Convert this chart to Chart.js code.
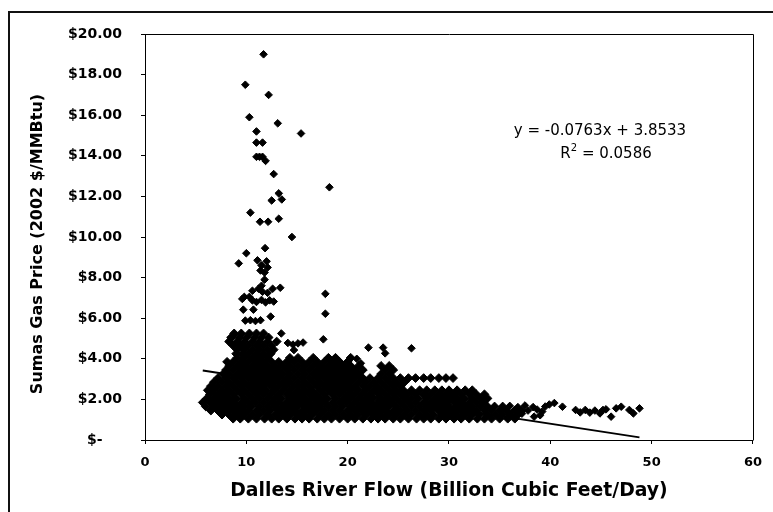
<!DOCTYPE html>
<html>
<head>
<meta charset="utf-8">
<title>Sumas Gas Price vs Dalles River Flow</title>
<script src="https://cdn.jsdelivr.net/npm/chart.js@4.4.1/dist/chart.umd.min.js"></script>
<style>
  html, body { margin: 0; padding: 0; background: #fff; }
  #wrap { position: relative; width: 773px; height: 512px; overflow: hidden; }
  #frame { position: absolute; left: 8px; top: 11px; width: 800px; height: 540px;
           border-left: 2px solid #111; border-top: 2px solid #111; }
  #chart { position: absolute; left: 0; top: 0; }
</style>
</head>
<body>
<div id="wrap">
  <div id="frame"></div>
  <canvas id="chart" width="773" height="512"></canvas>
</div>
<script>
// axis ticks
const flowTicks = [0, 10, 20, 30, 40, 50, 60];
const priceTicks = [0, 2, 4, 6, 8, 10, 12, 14, 16, 18, 20];

// dense lower band: one row per price level ($/MMBtu), with the flows seen there
const bandPrice = [1.05, 1.25, 1.45, 1.65, 1.85, 2.05, 2.25, 2.45, 2.65, 2.85, 3.05,
                   3.25, 3.45, 3.65, 3.85, 4.05, 4.25, 4.45, 4.65, 4.85, 5.05, 5.25];
const bandFlow = [
  [8.7, 9.4, 10.2, 11.0, 11.8, 12.5, 13.2, 14.0, 14.8, 15.5, 16.2, 17.0, 17.7, 18.4, 19.2, 20.0, 20.7, 21.5, 22.3, 23.0, 23.7, 24.5, 25.2, 26.0, 26.8, 27.5, 28.2, 29.0, 29.7, 30.5, 31.2, 32.0, 32.8, 33.5, 34.2, 35.0, 35.8, 36.5],
  [7.6, 8.3, 9.1, 9.8, 10.6, 11.3, 12.1, 12.9, 13.6, 14.3, 15.1, 15.8, 16.5, 17.3, 18.1, 18.8, 19.6, 20.3, 21.0, 21.8, 22.6, 23.3, 24.1, 24.8, 25.6, 26.3, 27.1, 27.8, 28.5, 29.3, 30.1, 30.8, 31.6, 32.3, 33.0, 33.8, 34.6, 35.3, 36.1, 36.8],
  [6.5, 7.2, 8.0, 8.7, 9.5, 10.2, 11.0, 11.7, 12.4, 13.2, 14.0, 14.7, 15.5, 16.2, 16.9, 17.7, 18.5, 19.2, 20.0, 20.7, 21.4, 22.2, 23.0, 23.7, 24.5, 25.2, 25.9, 26.7, 27.5, 28.2, 29.0, 29.7, 30.4, 31.2, 32.0, 32.7, 33.5, 34.2, 35.0, 35.7, 36.5, 37.2],
  [6.0, 6.8, 7.6, 8.3, 9.1, 9.8, 10.5, 11.3, 12.1, 12.8, 13.6, 14.3, 15.0, 15.8, 16.6, 17.3, 18.1, 18.8, 19.5, 20.3, 21.1, 21.8, 22.6, 23.3, 24.0, 24.8, 25.6, 26.3, 27.1, 27.8, 28.6, 29.3, 30.0, 30.8, 31.6, 32.3, 33.1, 33.8, 34.5, 35.3],
  [5.7, 6.5, 7.2, 8.0, 8.7, 9.5, 10.2, 10.9, 11.7, 12.5, 13.2, 14.0, 14.7, 15.4, 16.2, 17.0, 17.7, 18.5, 19.2, 19.9, 20.7, 21.5, 22.2, 23.0, 23.7, 24.4, 25.2, 26.0, 26.7, 27.5, 28.2, 28.9, 29.7, 30.5, 31.2, 32.0, 32.7, 33.4],
  [6.1, 6.8, 7.6, 8.3, 9.0, 9.8, 10.6, 11.3, 12.1, 12.8, 13.5, 14.3, 15.1, 15.8, 16.6, 17.3, 18.0, 18.8, 19.6, 20.3, 21.1, 21.8, 22.5, 23.3, 24.1, 24.8, 25.6, 26.3, 27.0, 27.8, 28.6, 29.3, 30.1, 30.8, 31.5, 32.3, 33.1, 33.8],
  [6.4, 7.2, 8.0, 8.7, 9.5, 10.2, 11.0, 11.7, 12.4, 13.2, 14.0, 14.7, 15.5, 16.2, 16.9, 17.7, 18.5, 19.2, 20.0, 20.7, 21.4, 22.2, 23.0, 23.7, 24.5, 25.2, 25.9, 26.7, 27.5, 28.2, 29.0, 29.7, 30.4, 31.2, 32.0, 32.7, 33.5],
  [6.2, 6.8, 7.6, 8.3, 9.1, 9.8, 10.6, 11.3, 12.0, 12.8, 13.6, 14.3, 15.1, 15.8, 16.5, 17.3, 18.1, 18.8, 19.6, 20.3, 21.0, 21.8, 22.6, 23.3, 24.1, 24.8, 25.5, 26.3, 27.1, 27.8, 28.6, 29.3, 30.0, 30.8, 31.6, 32.3],
  [6.5, 7.2, 8.0, 8.7, 9.5, 10.2, 11.0, 11.7, 12.5, 13.2, 13.9, 14.7, 15.5, 16.2, 17.0, 17.7, 18.4, 19.2, 20.0, 20.7, 21.5, 22.2, 22.9, 23.7, 24.5, 25.2],
  [6.8, 7.6, 8.3, 9.1, 9.8, 10.6, 11.3, 12.1, 12.8, 13.6, 14.3, 15.1, 15.8, 16.6, 17.3, 18.1, 18.8, 19.6, 20.3, 21.1, 21.8, 22.6, 23.3, 24.1, 24.8, 25.6],
  [7.2, 8.0, 8.7, 9.5, 10.2, 11.0, 11.7, 12.5, 13.2, 14.0, 14.7, 15.5, 16.2, 17.0, 17.7, 18.5, 19.2, 20.0, 20.7, 21.5, 22.2, 23.0, 23.7, 24.5, 25.2, 26.0, 26.7, 27.5, 28.2, 29.0, 29.7, 30.4],
  [7.7, 8.3, 9.1, 9.8, 10.6, 11.3, 12.1, 12.8, 13.6, 14.3, 15.1, 15.8, 16.6, 17.3, 18.1, 18.8, 19.6, 20.3, 21.1, 23.3, 24.1],
  [8.0, 8.7, 9.5, 10.2, 11.0, 11.7, 12.5, 13.2, 14.0, 14.7, 15.5, 16.2, 17.0, 17.7, 18.5, 19.2, 20.0, 20.7, 21.5, 23.7, 24.5],
  [8.3, 9.1, 9.8, 10.6, 11.3, 12.1, 12.8, 13.6, 14.3, 15.1, 15.8, 16.6, 17.3, 18.1, 18.8, 19.6, 20.3, 21.1, 23.3, 24.1],
  [8.1, 8.7, 9.5, 10.2, 11.0, 11.7, 12.5, 13.2, 14.0, 14.7, 15.5, 16.2, 17.0, 17.7, 18.5, 19.2, 20.0],
  [9.1, 9.8, 10.6, 11.3, 12.1, 14.3, 15.1, 16.6, 18.1, 18.8, 20.3],
  [9.0, 9.6, 10.2, 11.0, 11.7, 12.4],
  [9.1, 9.8, 10.6, 11.3, 12.1, 12.7],
  [8.7, 9.5, 10.2, 11.0, 11.7, 12.5],
  [8.3, 9.1, 9.8, 10.6, 11.3, 12.1, 13.0],
  [8.5, 9.3, 10.0, 10.8, 11.5, 12.2],
  [8.8, 9.5, 10.3, 11.0, 11.7]
];

// [flow, price] points outside the band
const tailPoints = [
  [36.0, 1.68], [36.8, 1.62], [37.5, 1.70], [37.2, 1.30], [37.8, 1.45], [38.3, 1.62],
  [38.7, 1.50], [38.4, 1.15], [39.0, 1.22], [39.2, 1.40], [39.5, 1.65], [39.9, 1.75],
  [40.4, 1.82], [41.2, 1.64], [42.5, 1.48], [42.95, 1.36], [43.45, 1.48], [43.9, 1.35],
  [44.4, 1.45], [44.9, 1.31], [45.2, 1.48], [45.5, 1.51], [46.0, 1.15], [46.5, 1.56],
  [47.0, 1.64], [47.8, 1.48], [48.2, 1.31], [48.8, 1.56]
];
const shoulderPoints = [
  [13.45, 5.25], [17.6, 4.96], [14.1, 4.78], [14.6, 4.70], [15.1, 4.76], [15.6, 4.80],
  [14.7, 4.43], [22.05, 4.55], [23.5, 4.55], [23.7, 4.27], [26.3, 4.52], [21.3, 3.78],
  [20.9, 4.00]
];
const upperPoints = [
  [11.5, 7.60], [13.35, 7.50], [10.6, 7.35], [11.2, 7.45], [11.6, 7.30], [12.1, 7.25],
  [12.6, 7.45], [17.8, 7.20], [9.8, 7.05], [10.3, 7.05], [9.6, 6.95], [10.6, 6.88],
  [11.0, 6.80], [11.5, 6.90], [11.9, 6.78], [12.3, 6.88], [12.7, 6.82], [9.7, 6.42],
  [10.7, 6.42], [17.8, 6.22], [12.4, 6.08], [9.9, 5.88], [10.4, 5.90], [10.9, 5.86],
  [11.4, 5.90]
];
const spikes = [
  [11.7, 19.0], [9.9, 17.5], [12.2, 17.0], [10.3, 15.9], [13.1, 15.6], [15.4, 15.1],
  [11.0, 15.2], [11.0, 14.65], [11.6, 14.65], [11.0, 13.95], [11.3, 13.95], [11.6, 13.95],
  [11.9, 13.75], [12.7, 13.1], [18.2, 12.45], [13.2, 12.15], [13.5, 11.85], [12.5, 11.8],
  [10.4, 11.2], [11.35, 10.75], [12.15, 10.75], [13.2, 10.9], [14.5, 10.0], [11.85, 9.45],
  [10.0, 9.2], [9.25, 8.7], [11.1, 8.85], [11.5, 8.6], [12.0, 8.8], [11.4, 8.35],
  [11.8, 8.25], [12.1, 8.5], [11.8, 7.9]
];

// linear trendline, as printed on the chart
const trendSlope = -0.0763;
const trendIntercept = 3.8533;
const trendR2 = '0.0586';
const trendFlow = [5.7, 48.8];

const bandPoints = [];
bandPrice.forEach((p, i) => bandFlow[i].forEach(f => bandPoints.push({ x: f, y: p })));
const scattered = [];
[tailPoints, shoulderPoints, upperPoints, spikes].forEach(list =>
  list.forEach(([f, p]) => scattered.push({ x: f, y: p })));
const trendPoints = trendFlow.map(f => ({ x: f, y: trendIntercept + trendSlope * f }));

Chart.defaults.font.family = "'DejaVu Sans', sans-serif";
Chart.defaults.color = '#000';

// top and right edges of the plot area
const plotFrame = {
  id: 'plotFrame',
  afterDraw(chart) {
    const { ctx, chartArea: a } = chart;
    ctx.save();
    ctx.strokeStyle = '#000';
    ctx.lineWidth = 1;
    ctx.beginPath();
    ctx.moveTo(Math.round(a.left) + 0.5, Math.round(a.top) + 0.5);
    ctx.lineTo(Math.round(a.right) + 0.5, Math.round(a.top) + 0.5);
    ctx.lineTo(Math.round(a.right) + 0.5, Math.round(a.bottom) + 0.5);
    ctx.stroke();
    ctx.restore();
  }
};

// vertical axis title and trendline equation
const labels = {
  id: 'labels',
  afterDraw(chart) {
    const { ctx } = chart;
    const xs = chart.scales.x, ys = chart.scales.y;
    ctx.save();
    ctx.fillStyle = '#000';
    ctx.textAlign = 'center';
    ctx.textBaseline = 'middle';

    ctx.save();
    ctx.translate(38, 244);
    ctx.rotate(-Math.PI / 2);
    ctx.font = "bold 16px 'DejaVu Sans'";
    ctx.fillText('Sumas Gas Price (2002 $/MMBtu)', 0, 0);
    ctx.restore();

    ctx.font = "15px 'DejaVu Sans'";
    const eq = 'y = ' + trendSlope.toFixed(4) + 'x + ' + trendIntercept.toFixed(4);
    ctx.fillText(eq, xs.getPixelForValue(44.9), ys.getPixelForValue(15.2));

    // R² line with a raised 2
    const cx = xs.getPixelForValue(45.5), cy = ys.getPixelForValue(14.1);
    const rest = ' = ' + trendR2;
    ctx.textAlign = 'left';
    const wR = ctx.measureText('R').width;
    const wRest = ctx.measureText(rest).width;
    ctx.font = "10px 'DejaVu Sans'";
    const w2 = ctx.measureText('2').width;
    const x0 = cx - (wR + w2 + wRest) / 2;
    ctx.font = "15px 'DejaVu Sans'";
    ctx.fillText('R', x0, cy);
    ctx.font = "10px 'DejaVu Sans'";
    ctx.fillText('2', x0 + wR, cy - 5);
    ctx.font = "15px 'DejaVu Sans'";
    ctx.fillText(rest, x0 + wR + w2, cy);
    ctx.restore();
  }
};

const marker = {
  pointStyle: 'rectRot',
  pointBackgroundColor: '#000',
  pointBorderColor: '#000',
  pointBorderWidth: 1
};

new Chart(document.getElementById('chart'), {
  type: 'scatter',
  data: {
    datasets: [
      {
        label: 'Linear (Sumas)',
        data: trendPoints,
        showLine: true,
        borderColor: '#000',
        borderWidth: 2,
        pointRadius: 0,
        fill: false,
        order: 1
      },
      Object.assign({ label: 'Sumas', data: scattered, pointRadius: 3.8, order: 2 }, marker),
      Object.assign({ label: 'Sumas (band)', data: bandPoints, pointRadius: 4.4, order: 3 }, marker)
    ]
  },
  options: {
    responsive: false,
    animation: false,
    devicePixelRatio: 1,
    events: [],
    layout: { padding: { left: 29, top: 34, right: 11, bottom: 10 } },
    plugins: { legend: { display: false }, tooltip: { enabled: false } },
    scales: {
      x: {
        type: 'linear',
        min: flowTicks[0],
        max: flowTicks[flowTicks.length - 1],
        afterBuildTicks: s => { s.ticks = flowTicks.map(v => ({ value: v })); },
        afterFit: s => { s.height = 62; },
        border: { display: true, color: '#000', width: 1 },
        grid: { display: true, drawOnChartArea: false, drawTicks: true, tickLength: 4, color: '#000' },
        ticks: { font: { size: 13, weight: 'bold' }, padding: 11, maxRotation: 0 },
        title: {
          display: true,
          text: 'Dalles River Flow (Billion Cubic Feet/Day)',
          font: { size: 18.8, weight: 'bold' },
          padding: 0
        }
      },
      y: {
        type: 'linear',
        min: priceTicks[0],
        max: priceTicks[priceTicks.length - 1],
        afterBuildTicks: s => { s.ticks = priceTicks.map(v => ({ value: v })); },
        afterFit: s => { s.width = 116; },
        border: { display: true, color: '#000', width: 1 },
        grid: { display: true, drawOnChartArea: false, drawTicks: true, tickLength: 4, color: '#000' },
        ticks: {
          font: { size: 14, weight: 'bold' },
          padding: 19,
          callback: v => (v === 0 ? '$-\u2007\u2007' : '$' + v.toFixed(2))
        }
      }
    }
  },
  plugins: [plotFrame, labels]
});
</script>
</body>
</html>
